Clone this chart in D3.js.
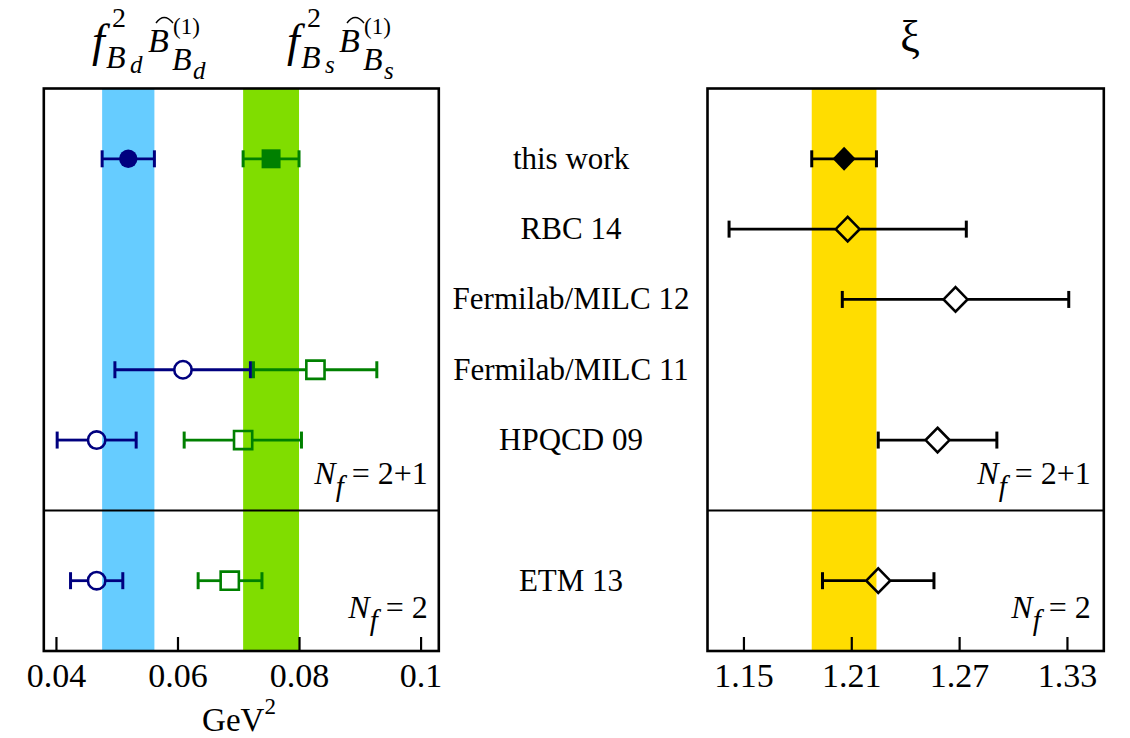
<!DOCTYPE html>
<html>
<head>
<meta charset="utf-8">
<script src="https://cdn.jsdelivr.net/npm/d3@7"></script>
<style>
  body { margin: 0; background: #fff; }
  svg { display: block; }
  text { font-family: "Liberation Serif", "Times New Roman", serif; fill: #000; }
</style>
</head>
<body>
<svg id="chart" width="1130" height="738"></svg>
<script>
// ---- data -------------------------------------------------------------
const categories = ["this work", "RBC 14", "Fermilab/MILC 12", "Fermilab/MILC 11", "HPQCD 09", "ETM 13"];
// vertical slot of each result; slot 6 holds the Nf = 2+1 / Nf = 2 separator
const rowSlot = [1, 2, 3, 4, 5, 7];
const separatorSlot = 6;

// f_Bd^2 B_Bd (GeV^2)
const bdValue = [0.0519, null, null, 0.0609, 0.0467, 0.0467];
const bdLow   = [0.0476, null, null, 0.0497, 0.0402, 0.0424];
const bdHigh  = [0.0562, null, null, 0.0720, 0.0532, 0.0510];
// f_Bs^2 B_Bs (GeV^2)
const bsValue = [0.0754, null, null, 0.0827, 0.0708, 0.0686];
const bsLow   = [0.0708, null, null, 0.0725, 0.0611, 0.0634];
const bsHigh  = [0.0800, null, null, 0.0928, 0.0804, 0.0739];
// xi
const xiValue = [1.206, 1.208, 1.268, null, 1.258, 1.225];
const xiLow   = [1.188, 1.142, 1.205, null, 1.225, 1.194];
const xiHigh  = [1.224, 1.274, 1.331, null, 1.291, 1.256];

const leftTicks = [0.04, 0.06, 0.08, 0.1];
const leftTickLabels = ["0.04", "0.06", "0.08", "0.1"];
const rightTicks = [1.15, 1.21, 1.27, 1.33];
const rightTickLabels = ["1.15", "1.21", "1.27", "1.33"];

// ---- layout -----------------------------------------------------------
const svg = d3.select("#chart");
const plotTop = 88.5, plotBottom = 651;
const leftPanel = { x0: 43.8, x1: 438.8 };
const rightPanel = { x0: 707.5, x1: 1103.8 };

const y = d3.scaleLinear().domain([0, 8]).range([plotTop, plotBottom]);
const xL = d3.scaleLinear().domain([0.038, 0.103]).range([leftPanel.x0, leftPanel.x1]);
const xR = d3.scaleLinear().domain([1.13, 1.3505]).range([rightPanel.x0, rightPanel.x1]);

const NAVY = "#00007f", GREEN = "#008000";

// ---- shaded bands from the "this work" result ------------------------
function band(g, x, lo, hi, color) {
  g.append("rect")
    .attr("x", x(lo)).attr("width", x(hi) - x(lo))
    .attr("y", y(0)).attr("height", y(8) - y(0))
    .attr("fill", color);
}
const gL = svg.append("g");
const gR = svg.append("g");
band(gL, xL, bdLow[0], bdHigh[0], "#66ccff");
band(gL, xL, bsLow[0], bsHigh[0], "#80dd00");
band(gR, xR, xiLow[0], xiHigh[0], "#ffdd00");

// ---- axes (inward ticks on the bottom edge) ---------------------------
function axis(g, x, ticks, labels) {
  const a = g.append("g").attr("transform", `translate(0,${plotBottom})`)
    .call(d3.axisBottom(x).tickValues(ticks).tickFormat((d, i) => labels[i]).tickSize(-14).tickPadding(0));
  a.select(".domain").remove();
  a.selectAll(".tick line").attr("stroke", "#000").attr("stroke-width", 2.2);
  a.selectAll(".tick text")
    .attr("y", 36).attr("dy", 0)
    .style("font-size", "34px")
    .style("font-family", '"Liberation Serif","Times New Roman",serif')
    .attr("fill", "#000");
}
axis(gL, xL, leftTicks, leftTickLabels);
axis(gR, xR, rightTicks, rightTickLabels);

// ---- frames and separator --------------------------------------------
function frame(g, p) {
  g.append("line").attr("x1", p.x0).attr("x2", p.x1)
    .attr("y1", y(separatorSlot)).attr("y2", y(separatorSlot))
    .attr("stroke", "#000").attr("stroke-width", 2);
  g.append("rect").attr("x", p.x0).attr("y", plotTop)
    .attr("width", p.x1 - p.x0).attr("height", plotBottom - plotTop)
    .attr("fill", "none").attr("stroke", "#000").attr("stroke-width", 2.6);
}

// ---- error bars and markers ------------------------------------------
const markerGap = { circle: 8.8, square: 9.2, diamond: 12.5 };

function markerPath(shape, filled) {
  if (shape === "circle") return d3.symbol().type(d3.symbolCircle).size(Math.PI * (filled ? 9.2 : 8.7) ** 2)();
  if (shape === "square") { const h = filled ? 9.5 : 9.1; return `M${-h},${-h}H${h}V${h}H${-h}Z`; }
  const hx = filled ? 11.5 : 12, hy = filled ? 12 : 12.3;
  return `M0,${-hy}L${hx},0L0,${hy}L${-hx},0Z`;
}

function series(g, x, vals, lows, highs, color, shape) {
  vals.forEach((v, i) => {
    if (v == null) return;
    const cy = y(rowSlot[i]);
    const cx = x(v), xl = x(lows[i]), xh = x(highs[i]);
    const filled = i === 0;
    const gap = filled ? 0 : markerGap[shape];
    const bar = g.append("g").attr("stroke", color).attr("stroke-width", 2.8).attr("fill", "none");
    if (filled) {
      bar.append("line").attr("x1", xl).attr("x2", xh).attr("y1", cy).attr("y2", cy);
    } else {
      bar.append("line").attr("x1", xl).attr("x2", cx - gap).attr("y1", cy).attr("y2", cy);
      bar.append("line").attr("x1", cx + gap).attr("x2", xh).attr("y1", cy).attr("y2", cy);
    }
    [xl, xh].forEach(ex => bar.append("line").attr("x1", ex).attr("x2", ex)
      .attr("y1", cy - 8.5).attr("y2", cy + 8.5).attr("stroke-width", 3));
    g.append("path").attr("d", markerPath(shape, filled))
      .attr("transform", `translate(${cx},${cy})`)
      .attr("fill", filled ? color : "none")
      .attr("stroke", filled ? "none" : color)
      .attr("stroke-width", 2.6);
  });
}

series(gL, xL, bdValue, bdLow, bdHigh, NAVY, "circle");
series(gL, xL, bsValue, bsLow, bsHigh, GREEN, "square");
series(gR, xR, xiValue, xiLow, xiHigh, "#000", "diamond");
frame(gL, leftPanel);
frame(gR, rightPanel);

// ---- Nf labels --------------------------------------------------------
function nfLabel(g, xRight, baseline, rhs) {
  const t = g.append("text").attr("x", xRight).attr("y", baseline)
    .attr("text-anchor", "end").style("font-size", "32px");
  t.append("tspan").attr("font-style", "italic").text("N");
  t.append("tspan").attr("font-style", "italic").attr("dx", 0).attr("dy", 12).style("font-size", "29px").text("f");
  t.append("tspan").attr("dy", -12).text(" = " + rhs);
}
nfLabel(svg, leftPanel.x1 - 11, 484, "2+1");
nfLabel(svg, leftPanel.x1 - 11, 618, "2");
nfLabel(svg, rightPanel.x1 - 13, 484, "2+1");
nfLabel(svg, rightPanel.x1 - 13, 618, "2");

// ---- row labels between the panels ------------------------------------
svg.append("g").selectAll("text").data(categories).join("text")
  .attr("x", 571).attr("y", (d, i) => y(rowSlot[i]) + 10)
  .attr("text-anchor", "middle").style("font-size", "31px")
  .text(d => d);

// ---- axis titles ------------------------------------------------------
const xt = svg.append("text").attr("x", 239).attr("y", 731).attr("text-anchor", "middle").style("font-size", "33px");
xt.append("tspan").text("GeV");
xt.append("tspan").attr("dy", -17).style("font-size", "23px").text("2");

svg.append("text").attr("x", 910).attr("y", 51).attr("text-anchor", "middle")
  .style("font-size", "44px").text("ξ");

// f^2_{B_q} \hat B^{(1)}_{B_q}
function panelTitle(ox, q, squeeze) {
  const g = svg.append("g").attr("transform", `translate(${ox},0)`);
  const put = (x, yb, size, s, italic) => g.append("text").attr("x", x).attr("y", yb)
    .style("font-size", size + "px").attr("font-style", italic ? "italic" : null).text(s);
  put(0, 56, 46, "f", true);
  put(20, 27, 28, "2", false);
  put(14, 68, 32, "B", true);
  put(38, 73, 25, q, true);
  const s = squeeze;
  put(56 - s, 52, 34, "B", true);
  g.append("path").attr("d", `M${64 - s},23 Q${72 - s},12 ${81 - s},23`)
    .attr("fill", "none").attr("stroke", "#000").attr("stroke-width", 1.4);
  put(81 - s, 34, 23, "(1)", false);
  put(80 - s, 70, 32, "B", true);
  put(101 - s, 79, 25, q, true);
}
panelTitle(92, "d", 0);
panelTitle(287, "s", 4);
</script>
</body>
</html>
